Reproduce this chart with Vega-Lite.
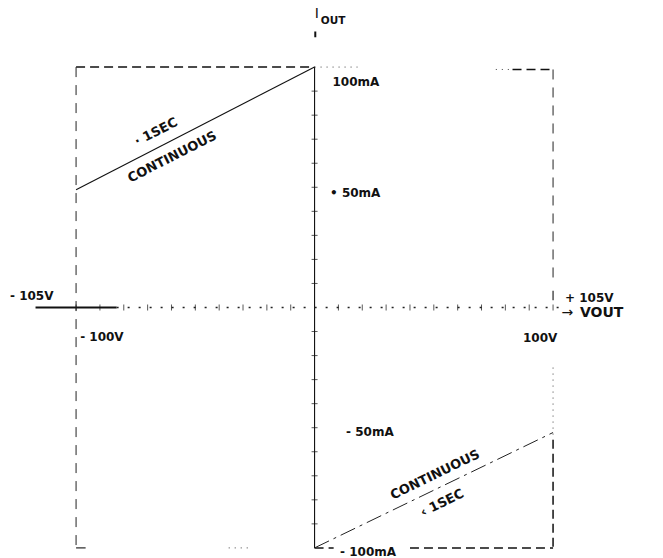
{
  "$schema": "https://vega.github.io/schema/vega-lite/v6.json",
  "width": 663,
  "height": 558,
  "autosize": {"type": "fit", "contains": "padding"},
  "padding": 0,
  "background": "white",
  "config": {"view": {"stroke": null}, "text": {"font": "DejaVu Sans", "color": "#111"}},
  "datasets": {
    "segs": [
      {"x": -100, "y": 49, "x2": 0, "y2": 100, "kind": "solid"},
      {"x": 0, "y": 100, "x2": 0, "y2": -100, "kind": "solid"},
      {"x": 0.3, "y": 114.8, "x2": 0.3, "y2": 112.4, "kind": "thick"},
      {"x": -117, "y": 0, "x2": -83, "y2": 0, "kind": "thick"},
      {"x": -83, "y": 0, "x2": 103, "y2": 0, "kind": "dots"},
      {"x": -100, "y": 100, "x2": 0, "y2": 100, "kind": "dash"},
      {"x": 0, "y": -100, "x2": 8, "y2": -100, "kind": "dash"},
      {"x": 40, "y": -100, "x2": 100, "y2": -100, "kind": "dash"},
      {"x": -100, "y": 100, "x2": -100, "y2": -100, "kind": "ldash"},
      {"x": 100, "y": 99, "x2": 100, "y2": 12, "kind": "ldash"},
      {"x": 100, "y": 7, "x2": 100, "y2": 3, "kind": "solid"},
      {"x": 100, "y": -25, "x2": 100, "y2": -55, "kind": "faint"},
      {"x": 100, "y": -55, "x2": 100, "y2": -100, "kind": "dash"},
      {"x": 0, "y": 100, "x2": 18, "y2": 100, "kind": "faint"},
      {"x": 76, "y": 99, "x2": 82, "y2": 99, "kind": "faint"},
      {"x": 83, "y": 99, "x2": 100, "y2": 99, "kind": "dash"},
      {"x": -100, "y": -100, "x2": -96, "y2": -100, "kind": "solid"},
      {"x": -36, "y": -100, "x2": -27, "y2": -100, "kind": "faint"},
      {"x": 0, "y": -100, "x2": 100, "y2": -52, "kind": "dashdot"}
    ],
    "hticks": [
      {"x": -100, "y": 0}, {"x": -90, "y": 0}, {"x": -80, "y": 0}, {"x": -70, "y": 0}, {"x": -60, "y": 0},
      {"x": -50, "y": 0}, {"x": -40, "y": 0}, {"x": -30, "y": 0}, {"x": -20, "y": 0}, {"x": -10, "y": 0},
      {"x": 10, "y": 0}, {"x": 20, "y": 0}, {"x": 30, "y": 0}, {"x": 40, "y": 0}, {"x": 50, "y": 0},
      {"x": 60, "y": 0}, {"x": 70, "y": 0}, {"x": 80, "y": 0}, {"x": 90, "y": 0}, {"x": 100, "y": 0}
    ],
    "vticks": [
      {"x": 0, "y": 90}, {"x": 0, "y": 80}, {"x": 0, "y": 70}, {"x": 0, "y": 60}, {"x": 0, "y": 50},
      {"x": 0, "y": 40}, {"x": 0, "y": 30}, {"x": 0, "y": 20}, {"x": 0, "y": 10},
      {"x": 0, "y": -10}, {"x": 0, "y": -20}, {"x": 0, "y": -30}, {"x": 0, "y": -40}, {"x": 0, "y": -50},
      {"x": 0, "y": -60}, {"x": 0, "y": -70}, {"x": 0, "y": -80}, {"x": 0, "y": -90}
    ],
    "labels": [
      {"x": 7.5, "y": 93.7, "text": "100mA", "kind": "plain"},
      {"x": 6.5, "y": 47.6, "text": "• 50mA", "kind": "plain"},
      {"x": -127.7, "y": 4.8, "text": "- 105V", "kind": "plain"},
      {"x": -98.3, "y": -12.3, "text": "- 100V", "kind": "plain"},
      {"x": 105, "y": 4, "text": "+ 105V", "kind": "plain"},
      {"x": 87.4, "y": -12.7, "text": "100V", "kind": "plain"},
      {"x": 13.2, "y": -51.8, "text": "- 50mA", "kind": "plain"},
      {"x": 10.7, "y": -101.7, "text": "- 100mA", "kind": "plain"},
      {"x": 103.5, "y": -2.3, "text": "→", "kind": "arrow"},
      {"x": 111.3, "y": -2.3, "text": "VOUT", "kind": "big"},
      {"x": 0.1, "y": 122, "text": "I", "kind": "iout"},
      {"x": 2.6, "y": 119.1, "text": "OUT", "kind": "sub"},
      {"x": -66.5, "y": 73, "text": "· 1SEC", "kind": "rotU"},
      {"x": -59.7, "y": 62.6, "text": "CONTINUOUS", "kind": "rotU"},
      {"x": 50.5, "y": -69.6, "text": "CONTINUOUS", "kind": "rotL"},
      {"x": 53.5, "y": -81.3, "text": "‹ 1SEC", "kind": "rotL"}
    ]
  },
  "encoding": {
    "x": {"field": "x", "type": "quantitative", "scale": {"domain": [-131.9, 146.1], "nice": false, "zero": false}, "axis": null},
    "y": {"field": "y", "type": "quantitative", "scale": {"domain": [-104.2, 127.9], "nice": false, "zero": false}, "axis": null}
  },
  "layer": [
    {"data": {"name": "segs"}, "transform": [{"filter": "datum.kind == 'solid'"}], "mark": {"type": "rule", "color": "#111", "strokeWidth": 1.1},
     "encoding": {"x2": {"field": "x2"}, "y2": {"field": "y2"}}},
    {"data": {"name": "segs"}, "transform": [{"filter": "datum.kind == 'thick'"}], "mark": {"type": "rule", "color": "#111", "strokeWidth": 2},
     "encoding": {"x2": {"field": "x2"}, "y2": {"field": "y2"}}},
    {"data": {"name": "segs"}, "transform": [{"filter": "datum.kind == 'dots'"}], "mark": {"type": "rule", "color": "#222", "strokeWidth": 1.3, "strokeDash": [2, 9]},
     "encoding": {"x2": {"field": "x2"}, "y2": {"field": "y2"}}},
    {"data": {"name": "segs"}, "transform": [{"filter": "datum.kind == 'dash'"}], "mark": {"type": "rule", "color": "#111", "strokeWidth": 1.5, "strokeDash": [9, 5]},
     "encoding": {"x2": {"field": "x2"}, "y2": {"field": "y2"}}},
    {"data": {"name": "segs"}, "transform": [{"filter": "datum.kind == 'ldash'"}], "mark": {"type": "rule", "color": "#222", "strokeWidth": 1, "strokeDash": [10, 8]},
     "encoding": {"x2": {"field": "x2"}, "y2": {"field": "y2"}}},
    {"data": {"name": "segs"}, "transform": [{"filter": "datum.kind == 'faint'"}], "mark": {"type": "rule", "color": "#444", "strokeWidth": 1, "strokeDash": [1, 5]},
     "encoding": {"x2": {"field": "x2"}, "y2": {"field": "y2"}}},
    {"data": {"name": "segs"}, "transform": [{"filter": "datum.kind == 'dashdot'"}], "mark": {"type": "rule", "color": "#222", "strokeWidth": 1, "strokeDash": [16, 5, 3, 5]},
     "encoding": {"x2": {"field": "x2"}, "y2": {"field": "y2"}}},
    {"data": {"name": "hticks"}, "mark": {"type": "tick", "orient": "vertical", "color": "#111", "size": 6, "thickness": 1}},
    {"data": {"name": "vticks"}, "mark": {"type": "tick", "orient": "horizontal", "color": "#111", "size": 6, "thickness": 1}},
    {"data": {"name": "labels"}, "transform": [{"filter": "datum.kind == 'plain'"}],
     "mark": {"type": "text", "align": "left", "baseline": "middle", "fontSize": 12, "fontWeight": "bold"},
     "encoding": {"text": {"field": "text"}}},
    {"data": {"name": "labels"}, "transform": [{"filter": "datum.kind == 'arrow'"}],
     "mark": {"type": "text", "align": "left", "baseline": "middle", "fontSize": 14},
     "encoding": {"text": {"field": "text"}}},
    {"data": {"name": "labels"}, "transform": [{"filter": "datum.kind == 'big'"}],
     "mark": {"type": "text", "align": "left", "baseline": "middle", "fontSize": 14, "fontWeight": "bold"},
     "encoding": {"text": {"field": "text"}}},
    {"data": {"name": "labels"}, "transform": [{"filter": "datum.kind == 'iout'"}],
     "mark": {"type": "text", "align": "left", "baseline": "middle", "fontSize": 14},
     "encoding": {"text": {"field": "text"}}},
    {"data": {"name": "labels"}, "transform": [{"filter": "datum.kind == 'sub'"}],
     "mark": {"type": "text", "align": "left", "baseline": "middle", "fontSize": 10.5, "fontWeight": "bold"},
     "encoding": {"text": {"field": "text"}}},
    {"data": {"name": "labels"}, "transform": [{"filter": "datum.kind == 'rotU'"}],
     "mark": {"type": "text", "align": "center", "baseline": "middle", "fontSize": 13, "fontWeight": "bold", "angle": 333},
     "encoding": {"text": {"field": "text"}}},
    {"data": {"name": "labels"}, "transform": [{"filter": "datum.kind == 'rotL'"}],
     "mark": {"type": "text", "align": "center", "baseline": "middle", "fontSize": 13, "fontWeight": "bold", "angle": 334},
     "encoding": {"text": {"field": "text"}}}
  ]
}
